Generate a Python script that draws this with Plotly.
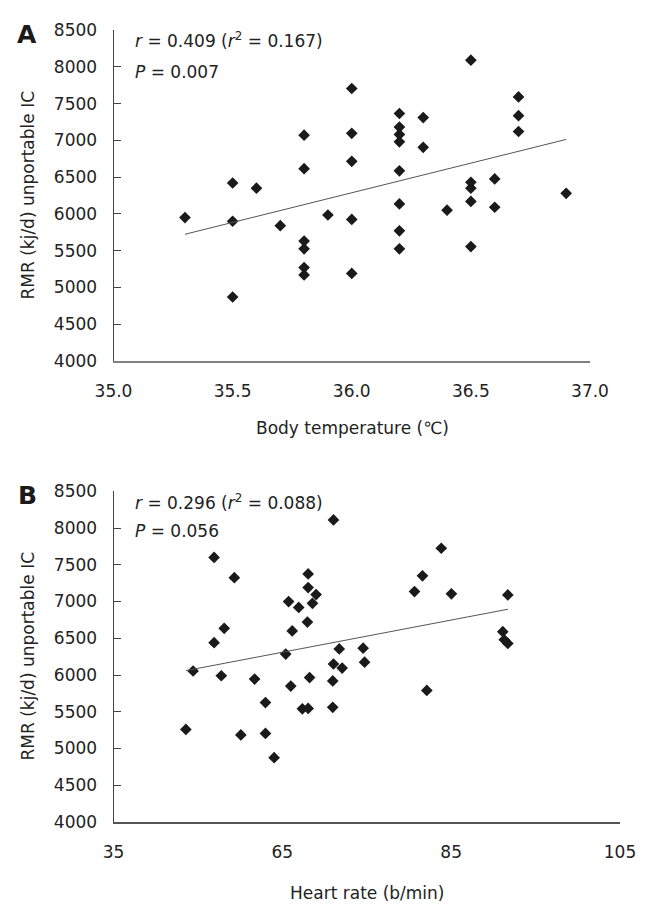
import numpy as np
import plotly.graph_objects as go

# ---------------- Data ----------------
# Panel A: body temperature (°C) vs RMR (kJ/d)
body_temp = [35.3,
             35.5, 35.5, 35.5,
             35.6, 35.7,
             35.8, 35.8, 35.8, 35.8, 35.8, 35.8,
             35.9,
             36.0, 36.0, 36.0, 36.0, 36.0,
             36.2, 36.2, 36.2, 36.2, 36.2, 36.2, 36.2, 36.2,
             36.3, 36.3,
             36.4,
             36.5, 36.5, 36.5, 36.5, 36.5,
             36.6, 36.6,
             36.7, 36.7, 36.7,
             36.9]
rmr_a = [5950,
         6420, 5900, 4870,
         6350, 5840,
         7070, 6615, 5630, 5525, 5270, 5170,
         5985,
         7705, 7095, 6715, 5925, 5190,
         7365, 7180, 7080, 6980, 6585, 6135, 5770, 5525,
         7310, 6905,
         6050,
         8090, 6430, 6350, 6170, 5555,
         6475, 6090,
         7590, 7335, 7120,
         6280]

# Panel B: heart rate (b/min) vs RMR (kJ/d)
heart_rate = [48.9, 51.7, 61.9, 61.9, 63.0, 62.5, 59.2, 60.6, 61.8, 59.7,
              50.3, 48.9, 46.0, 45.0, 49.9, 54.5, 52.6, 56.0, 56.0, 57.2,
              58.8, 59.5, 62.1, 61.1, 61.9, 65.4, 80.3, 77.7, 76.6, 81.7,
              89.5, 88.8, 89.0, 89.5, 66.2, 69.5, 65.4, 66.6, 69.7, 65.3,
              65.3, 78.3]
rmr_b = [7600, 7325, 7375, 7190, 7095, 6975, 7000, 6920, 6720, 6600,
         6635, 6440, 6055, 5260, 5990, 5945, 5185, 5625, 5205, 4875,
         6285, 5850, 5965, 5540, 5545, 8110, 7725, 7350, 7135, 7105,
         7090, 6590, 6480, 6430, 6355, 6365, 6150, 6095, 6175, 5920,
         5560, 5790]

# Axis ticks / labels
rmr_ticks = [4000, 4500, 5000, 5500, 6000, 6500, 7000, 7500, 8000, 8500]
temp_ticks = [35.0, 35.5, 36.0, 36.5, 37.0]
hr_tick_labels = ["35", "65", "85", "105"]

stats_a = ["<i>r</i> = 0.409 (<i>r</i><sup>2</sup> = 0.167)", "<i>P</i> = 0.007"]
stats_b = ["<i>r</i> = 0.296 (<i>r</i><sup>2</sup> = 0.088)", "<i>P</i> = 0.056"]

# ---------------- Figure ----------------
# the page body has an 8px default margin; size the figure to fill the rest
OFF = 8
W, H = 656 - OFF, 915 - OFF
FONT = "DejaVu Sans"
MK = dict(symbol="diamond", size=9, color="#1a1a1a", line=dict(width=0))


def fit_line(x, y):
    x = np.asarray(x, float)
    y = np.asarray(y, float)
    k, b = np.polyfit(x, y, 1)
    xs = np.array([x.min(), x.max()])
    return xs, k * xs + b


def px_x(p):
    return (p - OFF) / W


def px_y(p):
    return 1 - (p - OFF) / H


fig = go.Figure()

fig.add_trace(go.Scatter(x=body_temp, y=rmr_a, mode="markers", marker=MK,
                         xaxis="x", yaxis="y", showlegend=False))
lx, ly = fit_line(body_temp, rmr_a)
fig.add_trace(go.Scatter(x=lx, y=ly, mode="lines", line=dict(color="#555555", width=1),
                         xaxis="x", yaxis="y", showlegend=False))

fig.add_trace(go.Scatter(x=heart_rate, y=rmr_b, mode="markers", marker=MK,
                         xaxis="x2", yaxis="y2", showlegend=False))
lx2, ly2 = fit_line(heart_rate, rmr_b)
fig.add_trace(go.Scatter(x=lx2, y=ly2, mode="lines", line=dict(color="#555555", width=1),
                         xaxis="x2", yaxis="y2", showlegend=False))

tickfont = dict(family=FONT, size=17, color="#222222")

yaxis_common = dict(range=[4000, 8500], tickvals=rmr_ticks, showgrid=False, zeroline=False,
                    showline=True, linecolor="#444444", linewidth=1,
                    ticks="inside", ticklen=7, tickcolor="#444444", tickwidth=1,
                    tickfont=tickfont, ticklabelstandoff=12, automargin=False)

fig.update_layout(
    width=W, height=H,
    margin=dict(l=0, r=0, t=0, b=0, autoexpand=False),
    paper_bgcolor="white", plot_bgcolor="white",
    xaxis=dict(domain=[px_x(113.5), px_x(590)], range=[35.0, 37.0], tickvals=temp_ticks,
               tickformat=".1f", showgrid=False, zeroline=False, showline=True,
               linecolor="#808080", linewidth=2, ticks="", tickfont=tickfont,
               ticklabelstandoff=14, anchor="y", automargin=False),
    yaxis=dict(domain=[px_y(361), px_y(30)], anchor="x", **yaxis_common),
    xaxis2=dict(domain=[px_x(113.5), px_x(620)], range=[35, 105],
                tickvals=list(np.linspace(35, 105, len(hr_tick_labels))),
                ticktext=hr_tick_labels, showgrid=False, zeroline=False, showline=True,
                linecolor="#555555", linewidth=1.5, ticks="", tickfont=tickfont,
                ticklabelstandoff=14, anchor="y2", automargin=False),
    yaxis2=dict(domain=[px_y(822), px_y(491.3)], anchor="x2", **yaxis_common),
)

ann = []
titlefont = dict(family=FONT, size=17, color="#222222")
# axis titles
ann.append(dict(x=px_x(352), y=px_y(428), xref="paper", yref="paper", text="Body temperature (℃)",
                showarrow=False, font=titlefont, xanchor="center", yanchor="middle"))
ann.append(dict(x=px_x(367), y=px_y(893), xref="paper", yref="paper", text="Heart rate (b/min)",
                showarrow=False, font=titlefont, xanchor="center", yanchor="middle"))
ann.append(dict(x=px_x(27), y=px_y(195.5), xref="paper", yref="paper",
                text="RMR (kj/d) unportable IC", textangle=-90,
                showarrow=False, font=titlefont, xanchor="center", yanchor="middle"))
ann.append(dict(x=px_x(27), y=px_y(656.5), xref="paper", yref="paper",
                text="RMR (kj/d) unportable IC", textangle=-90,
                showarrow=False, font=titlefont, xanchor="center", yanchor="middle"))
# panel letters
ann.append(dict(x=px_x(27), y=px_y(34), xref="paper", yref="paper", text="<b>A</b>",
                showarrow=False, font=dict(family=FONT, size=25, color="#1a1a1a"),
                xanchor="center", yanchor="middle"))
ann.append(dict(x=px_x(27), y=px_y(495), xref="paper", yref="paper", text="<b>B</b>",
                showarrow=False, font=dict(family=FONT, size=25, color="#1a1a1a"),
                xanchor="center", yanchor="middle"))
# stats text
for txt, yy in zip(stats_a, [40, 72]):
    ann.append(dict(x=px_x(133), y=px_y(yy), xref="paper", yref="paper", text=txt,
                    showarrow=False, font=titlefont, xanchor="left", yanchor="middle"))
for txt, yy in zip(stats_b, [501.5, 530.5]):
    ann.append(dict(x=px_x(133), y=px_y(yy), xref="paper", yref="paper", text=txt,
                    showarrow=False, font=titlefont, xanchor="left", yanchor="middle"))

fig.update_layout(annotations=ann)

fig.write_html("out.html")
